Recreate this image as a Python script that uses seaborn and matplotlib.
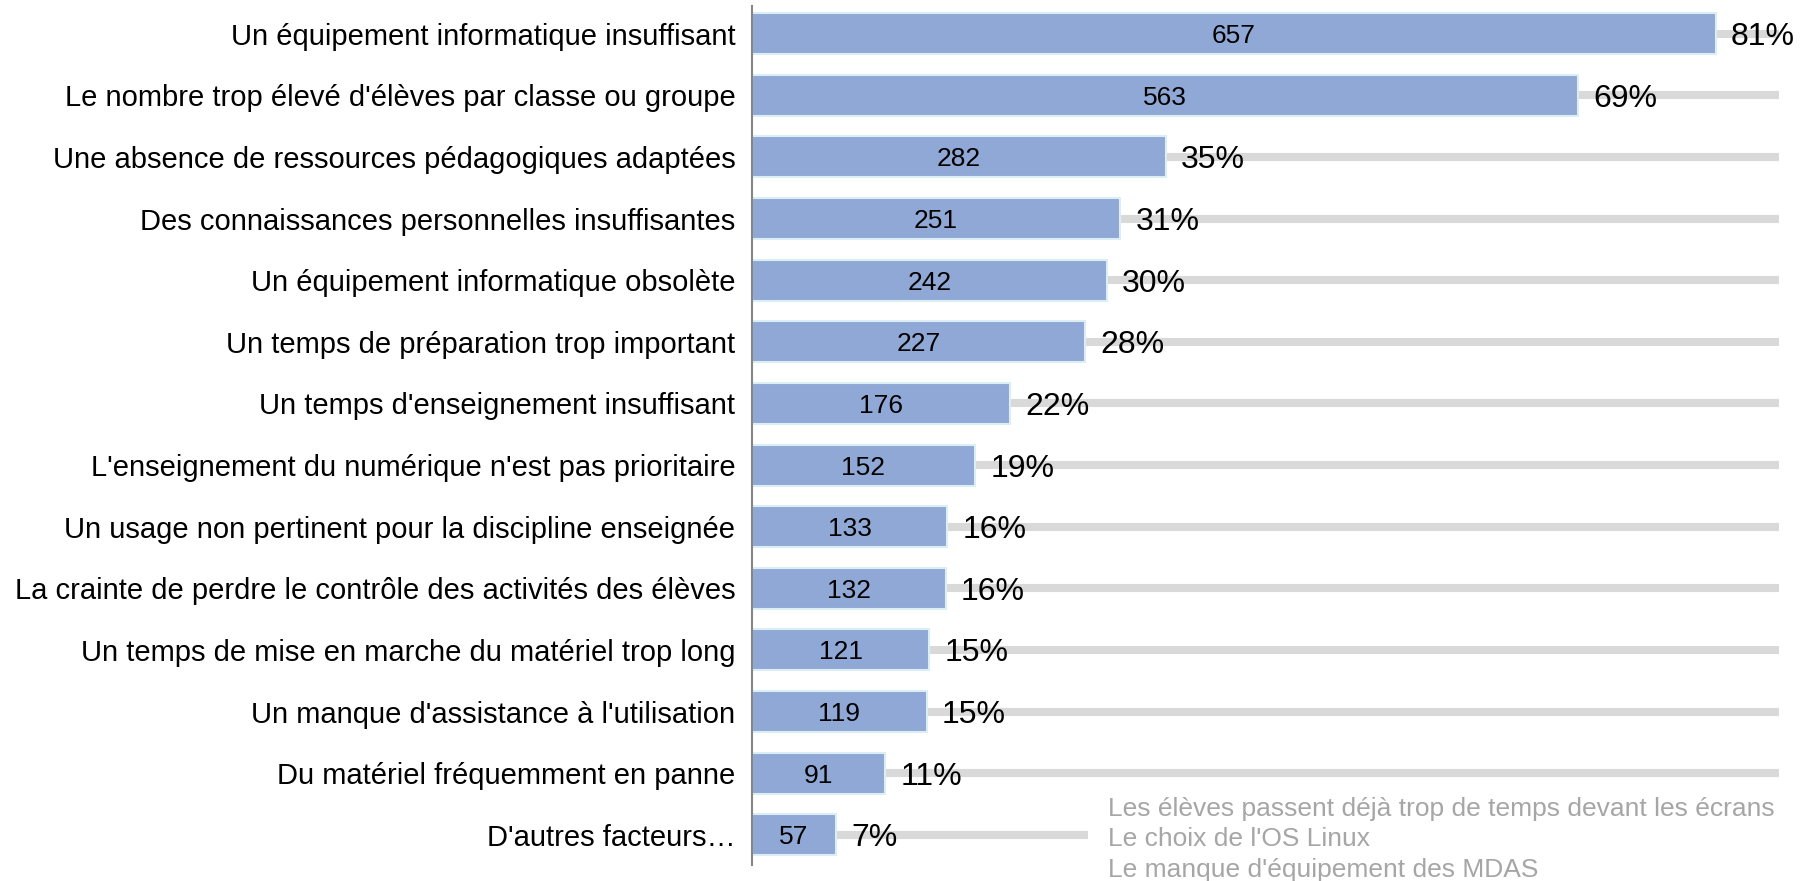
import matplotlib
matplotlib.use("Agg")
import matplotlib.pyplot as plt
import seaborn as sns
import pandas as pd

categories = [
    "Un équipement informatique insuffisant",
    "Le nombre trop élevé d'élèves par classe ou groupe",
    "Une absence de ressources pédagogiques adaptées",
    "Des connaissances personnelles insuffisantes",
    "Un équipement informatique obsolète",
    "Un temps de préparation trop important",
    "Un temps d'enseignement insuffisant",
    "L'enseignement du numérique n'est pas prioritaire",
    "Un usage non pertinent pour la discipline enseignée",
    "La crainte de perdre le contrôle des activités des élèves",
    "Un temps de mise en marche du matériel trop long",
    "Un manque d'assistance à l'utilisation",
    "Du matériel fréquemment en panne",
    "D'autres facteurs…",
]
counts = [657, 563, 282, 251, 242, 227, 176, 152, 133, 132, 121, 119, 91, 57]
percents = [81, 69, 35, 31, 30, 28, 22, 19, 16, 16, 15, 15, 11, 7]
track_ends = [700] * 13 + [229]
other_notes = [
    "Les élèves passent déjà trop de temps devant les écrans",
    "Le choix de l'OS Linux",
    "Le manque d'équipement des MDAS",
]

BAR_COLOR = "#8FA8D5"
EDGE_COLOR = "#DAEEF3"
TRACK_COLOR = "#D9D9D9"
NOTE_COLOR = "#A6A6A6"

sns.set_theme(style="white")
plt.rcParams["font.family"] = ["Liberation Sans", "DejaVu Sans"]

df = pd.DataFrame({"cat": categories, "count": counts})

fig = plt.figure(figsize=(18.14, 8.81), dpi=100)
ax = fig.add_axes([752 / 1814, 16 / 881, 1062 / 1814, 859 / 881])

ys = list(range(len(categories)))
ax.hlines(ys, 0, track_ends, colors=TRACK_COLOR, linewidth=5.8, zorder=0)

sns.barplot(data=df, y="cat", x="count", orient="h", ax=ax,
            color=BAR_COLOR, saturation=1, width=0.665,
            edgecolor=EDGE_COLOR, linewidth=1.5, zorder=2)

for i, (v, p) in enumerate(zip(counts, percents)):
    ax.text(v / 2, i, f"{v}", ha="center", va="center_baseline", fontsize=19,
            color="black", zorder=4)
    ax.annotate(f"{p}%", xy=(v, i), xytext=(11, 0), textcoords="offset points",
                ha="left", va="center_baseline", fontsize=23, color="black",
                zorder=4)

ax.set_xlim(0, 724)
ax.set_ylim(13.49, -0.45)
ax.set_xlabel("")
ax.set_ylabel("")
ax.set_xticks([])
ax.tick_params(axis="y", length=0, pad=12, labelsize=21, labelcolor="black")
for s in ["top", "right", "bottom"]:
    ax.spines[s].set_visible(False)
ax.spines["left"].set_color("#868686")
ax.spines["left"].set_linewidth(1.5)

note_y = [1 - 809 / 881, 1 - 839 / 881, 1 - 870 / 881]
for t, y in zip(other_notes, note_y):
    fig.text(1108 / 1814, y, t, ha="left", va="center", fontsize=19,
             color=NOTE_COLOR)

fig.savefig("out.png", dpi=100)
